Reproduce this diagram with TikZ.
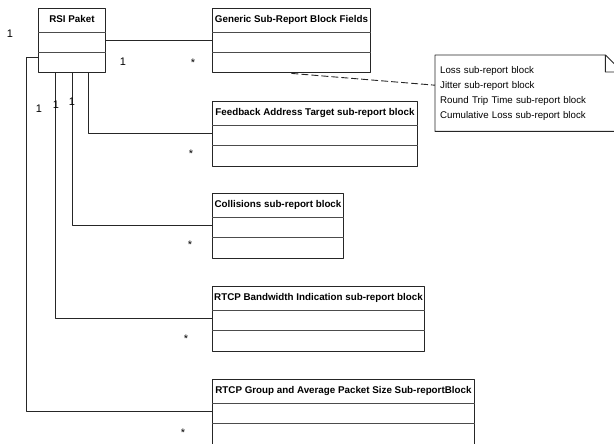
\documentclass[tikz,border=0pt]{standalone}
\usepackage{fontspec}
\setmainfont{Liberation Sans}
\begin{document}
\begin{tikzpicture}[x=1pt, y=-1pt, line join=round, font=\fontsize{9.7}{15}\selectfont]
	\tikzset{
		classbox/.style={draw=black!85, line width=.9pt, minimum height=64.5pt, anchor=north west, inner sep=0pt},
		classtitle/.style={font=\fontsize{9.8}{12}\selectfont\bfseries, inner sep=0pt, text height=7pt, text depth=2pt},
		rowline/.style={draw=black!70, line width=.9pt},
		link/.style={draw=black!85, line width=.9pt},
		mult/.style={font=\fontsize{11}{13}\selectfont, inner sep=0pt},
		notebox/.style={anchor=north west, minimum height=76pt, text width=177pt, inner xsep=5pt, inner ysep=0pt, align=left}
	}
	\useasboundingbox (0,0) rectangle (614,444);
	% classes
	\node [classbox, minimum width=67pt] (rsi) at (38,8) {};
	\node [classbox, minimum width=158pt] (generic) at (212,8) {};
	\node [classbox, minimum width=205pt] (feedback) at (212,101) {};
	\node [classbox, minimum width=131pt] (coll) at (212,193) {};
	\node [classbox, minimum width=212pt] (band) at (212,286) {};
	\node [classbox, minimum width=262pt] (group) at (212,379) {};
	\node [classtitle] (rsi title) at ([yshift=-12pt]rsi.north) {RSI Paket};
	\node [classtitle] (generic title) at ([yshift=-12pt]generic.north) {Generic Sub-Report Block Fields};
	\node [classtitle] (feedback title) at ([yshift=-12pt]feedback.north) {Feedback Address Target sub-report block};
	\node [classtitle] (coll title) at ([yshift=-12pt]coll.north) {Collisions sub-report block};
	\node [classtitle] (band title) at ([yshift=-12pt]band.north) {RTCP Bandwidth Indication sub-report block};
	\node [classtitle] (group title) at ([yshift=-12pt]group.north) {RTCP Group and Average Packet Size Sub-reportBlock};
	\foreach \c in {rsi,generic,feedback,coll,band,group}
		\draw [rowline] ([yshift=-24pt]\c.north west)--([yshift=-24pt]\c.north east)
		([yshift=-44pt]\c.north west)--([yshift=-44pt]\c.north east);
	% note
	\node [notebox] (note) at (435,55) {Loss sub-report block\\Jitter sub-report block\\Round Trip Time sub-report block\\Cumulative Loss sub-report block};
	\draw [link] (note.north west)--([xshift=-17pt]note.north east)--([yshift=-17pt]note.north east)--(note.south east)--(note.south west)--cycle
		([xshift=-17pt]note.north east) |- ([yshift=-17pt]note.north east)
		;
	\draw [link, dash pattern=on 7pt off 3pt] (generic.south)--([yshift=8pt]note.west);
	% associations
	\draw [link] (rsi.east)--(generic.west)
		([xshift=16.5pt]rsi.south) |- (feedback.west)
		(rsi.south) |- (coll.west)
		([xshift=-16.5pt]rsi.south) |- (band.west)
		([yshift=-16.5pt]rsi.west)--++(-12,0) |- (group.west)
		;
	\node [mult] (m group) at (10,34) {1};
	\node [mult] (m generic) at (123,62) {1};
	\node [mult] (m band) at (39,109) {1};
	\node [mult] (m coll) at (56,105) {1};
	\node [mult] (m feedback) at (72,102) {1};
	\node [mult] (s generic) at (193,63) {*};
	\node [mult] (s feedback) at (191,154) {*};
	\node [mult] (s coll) at (190,245) {*};
	\node [mult] (s band) at (186,339) {*};
	\node [mult] (s group) at (183,433) {*};
\end{tikzpicture}
\end{document}
